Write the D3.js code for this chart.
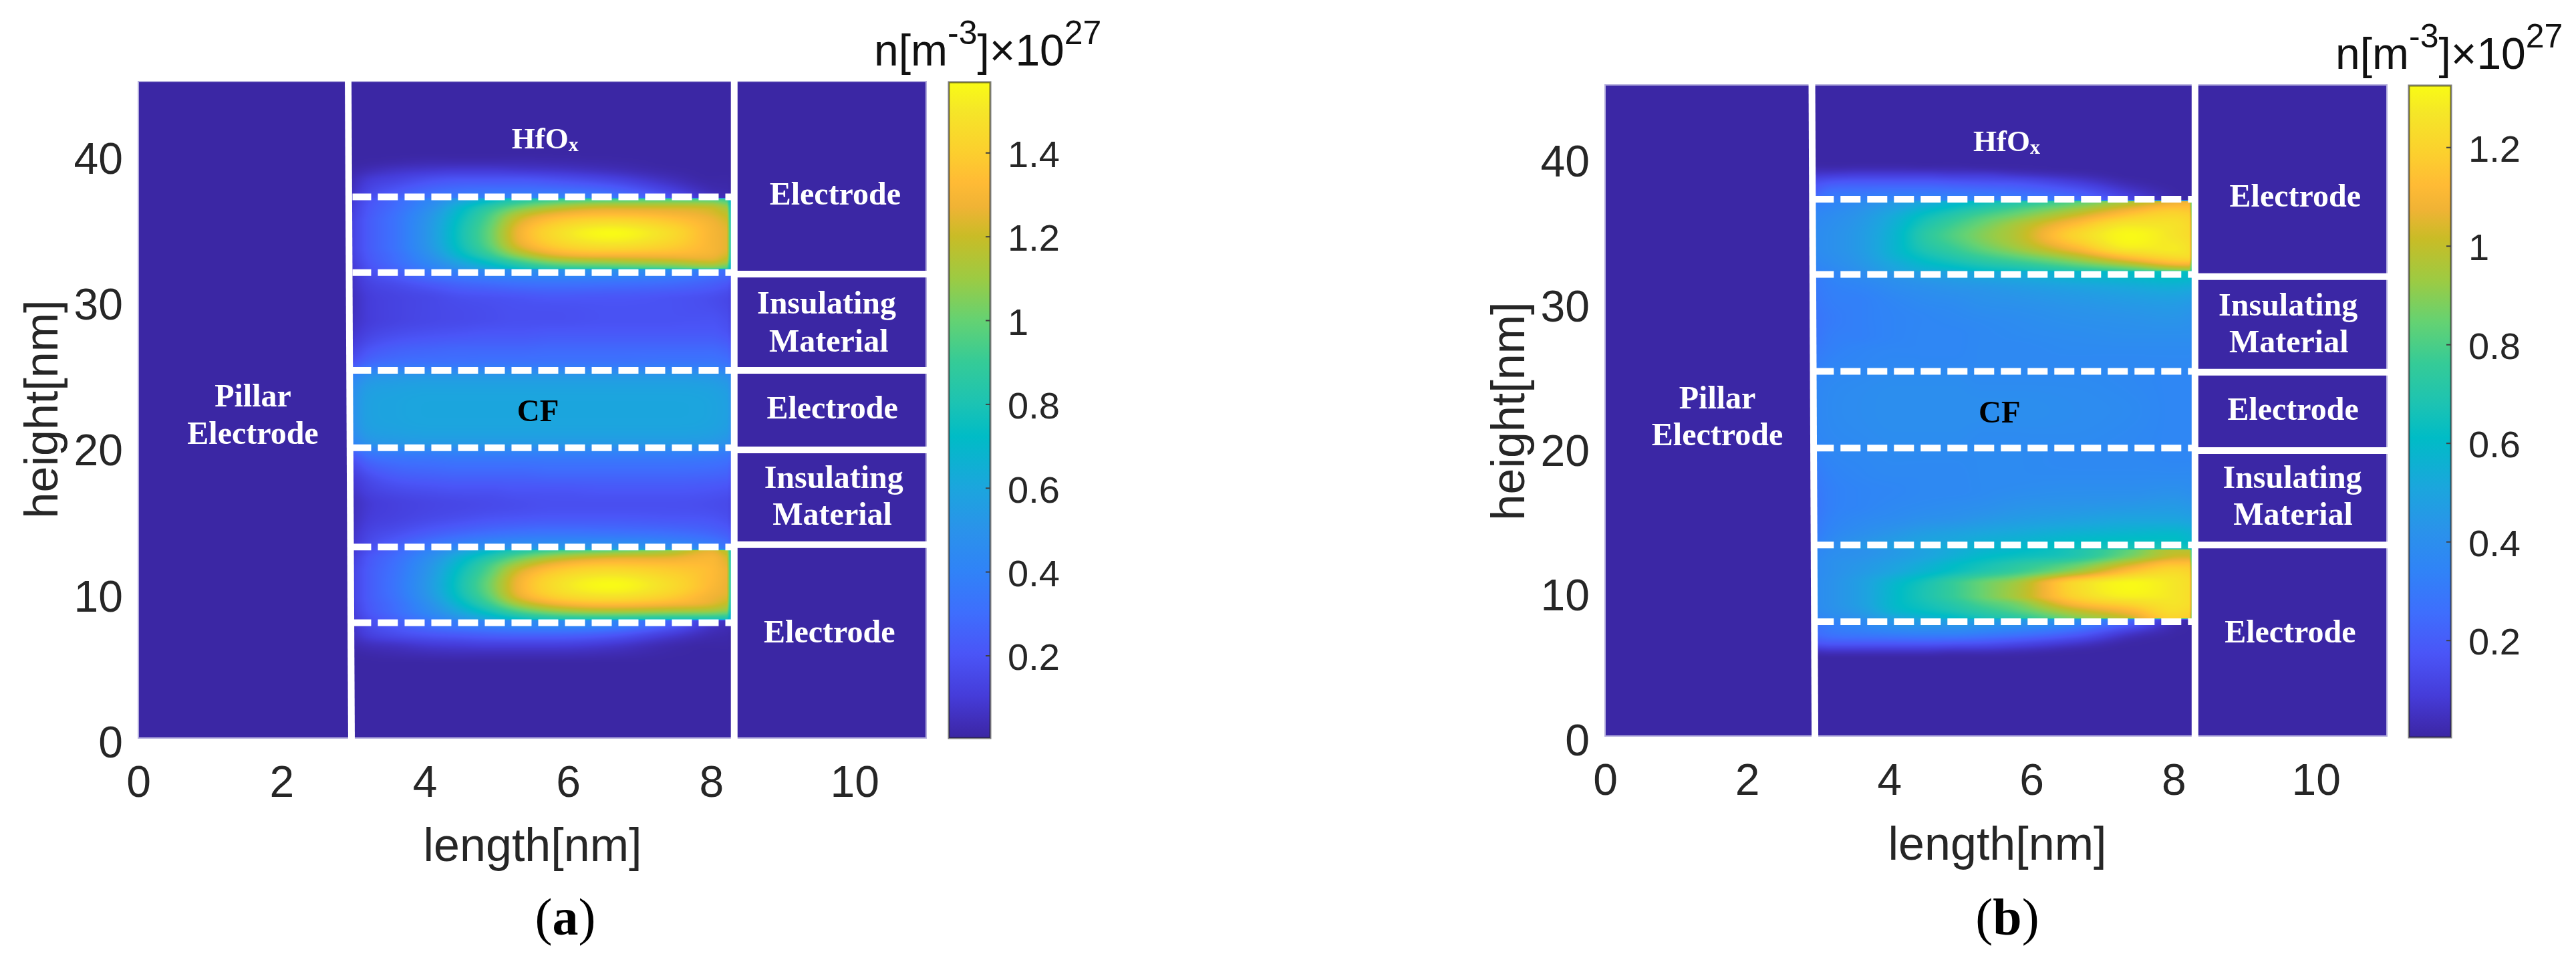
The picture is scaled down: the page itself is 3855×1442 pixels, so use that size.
<!DOCTYPE html>
<html><head><meta charset="utf-8">
<script src="https://cdnjs.cloudflare.com/ajax/libs/d3/7.8.5/d3.min.js"></script>
<style>
html,body{margin:0;padding:0;background:#fff;width:3855px;height:1442px;overflow:hidden}
canvas,svg{position:absolute;left:0;top:0}
</style></head><body>
<script>
const lengthTicks=[0,2,4,6,8,10];
const heightTicks=[0,10,20,30,40];
const colorbarTicksA=[0.2,0.4,0.6,0.8,1,1.2,1.4];
const colorbarTicksB=[0.2,0.4,0.6,0.8,1,1.2];
const rangeA=[0.003,1.568];
const rangeB=[0.003,1.325];
const colorPositions=[0,.02,.064,.128,.191,.255,.319,.383,.46,.51,.574,.638,.70,.765,.81,.848,.893,.957,1];
const colorValues=["#3b27a3","#3f2cb4","#453cd9","#4a55f7","#3e6efd","#3083f7","#2a93ea","#1ba6dd","#00bcc6","#1cc3b3","#35cb97","#65d272","#9ccb43","#c9bc26","#f0b335","#ffbb35","#fccf2e","#f5e628","#f9fb15"];
const lengthNodes=[2.93,3.2,3.6,4.1,4.5,4.9,5.3,5.8,6.6,7.4,8.0,8.22,8.28];
const heightNodesA=[45,40.2,39.5,38.9,38.3,37.6,37.05,36.95,36.4,35.9,35.4,34.6,33.7,33.1,32.7,32.2,32.1,31.5,31,30,28.8,27.7,26.7,25.6,24.7,22.5,20.3,19.5,18,17,16,15,14,13.4,12.95,12.85,12.4,11.9,11.4,10.5,9.7,9.2,8.7,8.15,8.05,7.7,7.05,6.4,5.7,5,0];
const densityA=[
[.005,.005,.005,.005,.005,.005,.005,.005,.005,.005,.005,.005,.005],
[.005,.005,.005,.005,.005,.005,.005,.005,.005,.005,.005,.005,.005],
[.005,.01,.02,.03,.03,.03,.03,.025,.015,.005,.005,.005,.005],
[.01,.04,.07,.09,.1,.1,.09,.08,.05,.015,.005,.005,.005],
[.02,.09,.13,.18,.2,.2,.2,.18,.13,.05,.01,.01,.005],
[.03,.13,.2,.27,.3,.31,.31,.3,.25,.12,.03,.02,.01],
[.04,.16,.25,.34,.38,.4,.42,.42,.36,.2,.06,.04,.03],
[.06,.18,.28,.42,.55,.68,.80,.88,.93,.95,.95,.9,.6],
[.08,.20,.30,.48,.68,.85,1.0,1.12,1.2,1.2,1.18,1.1,.7],
[.09,.21,.32,.52,.73,.93,1.14,1.27,1.33,1.3,1.24,1.18,.72],
[.10,.22,.33,.54,.76,.97,1.22,1.37,1.45,1.38,1.28,1.22,.74],
[.10,.22,.33,.55,.78,1.0,1.27,1.45,1.565,1.46,1.3,1.25,.76],
[.10,.22,.33,.54,.76,.97,1.22,1.38,1.46,1.4,1.3,1.25,.76],
[.09,.21,.31,.50,.70,.88,1.08,1.24,1.3,1.3,1.28,1.22,.74],
[.08,.20,.30,.46,.62,.77,.93,1.08,1.14,1.18,1.22,1.15,.7],
[.06,.18,.27,.40,.52,.63,.75,.85,.9,.95,1.02,.95,.6],
[.05,.17,.25,.36,.42,.46,.48,.5,.5,.46,.36,.3,.25],
[.04,.14,.2,.28,.32,.35,.37,.38,.37,.34,.28,.25,.2],
[.04,.12,.16,.21,.25,.27,.29,.3,.29,.27,.23,.2,.16],
[.03,.1,.13,.15,.17,.18,.19,.2,.2,.19,.17,.15,.12],
[.04,.1,.13,.15,.16,.17,.18,.18,.19,.19,.19,.17,.13],
[.06,.13,.17,.19,.2,.21,.21,.22,.22,.22,.22,.2,.16],
[.1,.19,.24,.26,.27,.27,.27,.28,.28,.28,.28,.26,.22],
[.18,.29,.33,.34,.34,.35,.35,.35,.35,.36,.36,.34,.3],
[.38,.5,.53,.54,.54,.54,.54,.54,.54,.54,.53,.5,.44],
[.45,.57,.59,.6,.6,.6,.6,.6,.6,.6,.59,.57,.5],
[.38,.5,.53,.54,.54,.54,.54,.54,.54,.54,.53,.5,.44],
[.2,.33,.37,.38,.39,.39,.39,.39,.39,.39,.38,.36,.32],
[.08,.17,.23,.25,.26,.26,.26,.27,.27,.27,.26,.25,.2],
[.05,.12,.16,.18,.19,.19,.2,.2,.21,.21,.2,.19,.16],
[.03,.09,.12,.14,.15,.16,.17,.18,.18,.18,.17,.16,.13],
[.03,.1,.13,.16,.18,.2,.21,.22,.22,.21,.2,.18,.14],
[.04,.13,.18,.24,.28,.31,.33,.34,.33,.31,.27,.24,.2],
[.05,.15,.23,.32,.38,.42,.44,.45,.45,.41,.35,.3,.24],
[.06,.17,.27,.38,.46,.5,.53,.55,.55,.5,.42,.36,.3],
[.05,.17,.27,.42,.56,.70,.82,.92,1.0,1.1,1.25,1.15,.7],
[.07,.2,.3,.48,.66,.82,.98,1.12,1.22,1.24,1.3,1.22,.72],
[.09,.21,.32,.52,.72,.92,1.12,1.28,1.36,1.34,1.32,1.25,.74],
[.1,.22,.33,.54,.76,.97,1.22,1.38,1.46,1.4,1.33,1.27,.75],
[.1,.22,.34,.56,.79,1.02,1.28,1.46,1.565,1.46,1.32,1.26,.76],
[.1,.22,.33,.54,.76,.98,1.24,1.4,1.48,1.4,1.28,1.24,.75],
[.09,.21,.31,.5,.7,.9,1.12,1.27,1.34,1.3,1.24,1.18,.72],
[.08,.2,.3,.46,.62,.78,.95,1.08,1.14,1.12,1.1,1.06,.68],
[.06,.17,.26,.38,.5,.62,.72,.8,.82,.8,.8,.78,.55],
[.05,.16,.24,.32,.38,.42,.45,.46,.42,.26,.1,.06,.04],
[.04,.15,.22,.3,.35,.38,.41,.42,.38,.22,.07,.04,.03],
[.03,.11,.16,.2,.22,.24,.25,.25,.21,.1,.03,.02,.01],
[.02,.05,.07,.1,.11,.12,.12,.12,.09,.03,.01,.01,.005],
[.005,.015,.025,.035,.04,.04,.04,.04,.03,.01,.005,.005,.005],
[.005,.005,.005,.005,.005,.005,.005,.005,.005,.005,.005,.005,.005],
[.005,.005,.005,.005,.005,.005,.005,.005,.005,.005,.005,.005,.005]
];
const heightNodesB=[45,39.8,39.3,38.8,38.3,37.6,37.05,36.95,36.4,35.9,35.4,34.6,33.7,33.1,32.7,32.2,32.1,31.5,31,30,28.8,27.7,26.7,25.6,24.7,22.5,20.3,19.5,18,17,16,15,14,13.4,12.95,12.85,12.4,11.9,11.4,10.5,9.7,9.2,8.7,8.15,8.05,7.7,7.05,6.4,5.8,5.3,0];
const densityB=[
[.005,.005,.005,.005,.005,.005,.005,.005,.005,.005,.005,.005,.005],
[.005,.005,.005,.005,.005,.005,.005,.005,.005,.005,.005,.005,.005],
[.02,.02,.025,.025,.02,.02,.015,.01,.005,.005,.005,.005,.005],
[.07,.08,.09,.09,.09,.08,.08,.06,.03,.005,.005,.005,.005],
[.14,.17,.18,.18,.18,.17,.16,.15,.09,.02,.005,.005,.005],
[.2,.27,.28,.29,.29,.28,.27,.25,.19,.07,.01,.005,.005],
[.26,.32,.34,.36,.36,.36,.35,.33,.27,.12,.02,.01,.01],
[.3,.34,.38,.45,.5,.56,.62,.68,.8,.95,1.05,1.08,.6],
[.34,.37,.42,.5,.58,.65,.72,.8,.93,1.08,1.16,1.15,.65],
[.36,.39,.44,.54,.64,.72,.8,.88,1.03,1.18,1.22,1.2,.68],
[.37,.4,.45,.56,.68,.77,.85,.95,1.12,1.26,1.25,1.22,.7],
[.38,.41,.46,.58,.72,.81,.89,.98,1.2,1.32,1.26,1.23,.7],
[.38,.41,.46,.58,.69,.76,.84,.93,1.1,1.28,1.28,1.25,.7],
[.37,.4,.45,.56,.64,.7,.76,.83,.96,1.14,1.22,1.23,.7],
[.36,.39,.44,.53,.6,.65,.7,.75,.86,1.0,1.12,1.13,.66],
[.34,.37,.42,.5,.55,.58,.62,.65,.72,.8,.9,.92,.6],
[.3,.35,.39,.45,.48,.5,.52,.54,.58,.62,.64,.62,.55],
[.3,.34,.37,.41,.44,.46,.48,.5,.54,.57,.59,.58,.52],
[.3,.33,.35,.39,.41,.43,.44,.46,.49,.52,.54,.53,.48],
[.29,.32,.33,.36,.38,.39,.41,.42,.44,.46,.47,.46,.42],
[.28,.31,.33,.35,.36,.37,.38,.39,.41,.42,.43,.42,.38],
[.28,.32,.33,.35,.36,.36,.37,.38,.39,.4,.4,.4,.36],
[.3,.33,.35,.36,.36,.36,.37,.37,.38,.38,.38,.38,.35],
[.32,.35,.36,.37,.37,.37,.37,.37,.37,.37,.37,.37,.34],
[.35,.37,.38,.39,.39,.39,.38,.38,.38,.37,.36,.36,.34],
[.36,.38,.39,.4,.4,.4,.4,.4,.39,.38,.36,.36,.34],
[.35,.37,.38,.39,.39,.39,.38,.38,.38,.37,.36,.36,.34],
[.33,.36,.37,.38,.38,.38,.38,.38,.37,.37,.36,.36,.34],
[.3,.34,.36,.37,.37,.37,.38,.38,.38,.38,.38,.38,.35],
[.29,.33,.35,.36,.37,.37,.38,.39,.4,.4,.41,.4,.37],
[.28,.33,.35,.37,.38,.39,.4,.42,.43,.44,.45,.44,.4],
[.29,.34,.37,.39,.41,.42,.44,.46,.48,.5,.5,.49,.44],
[.3,.36,.4,.44,.47,.49,.51,.53,.56,.58,.59,.57,.5],
[.32,.38,.43,.47,.5,.52,.55,.57,.61,.63,.63,.6,.52],
[.34,.4,.45,.49,.52,.55,.58,.6,.64,.67,.68,.65,.55],
[.35,.39,.41,.45,.49,.53,.57,.6,.68,.84,.98,.98,.6],
[.36,.4,.42,.46,.5,.55,.6,.64,.7,.88,1.02,1.03,.62],
[.37,.41,.44,.49,.54,.6,.65,.71,.82,1.02,1.14,1.14,.66],
[.37,.41,.45,.51,.57,.63,.69,.76,.92,1.14,1.22,1.2,.7],
[.38,.42,.48,.59,.67,.76,.85,.95,1.22,1.32,1.27,1.24,.7],
[.38,.42,.48,.6,.68,.76,.85,.96,1.2,1.3,1.27,1.24,.7],
[.38,.42,.48,.6,.66,.72,.8,.88,1.12,1.22,1.26,1.24,.7],
[.37,.41,.46,.58,.63,.68,.74,.82,1.0,1.12,1.24,1.22,.68],
[.34,.38,.42,.5,.55,.6,.66,.72,.88,1.02,1.2,1.18,.6],
[.28,.34,.38,.46,.49,.5,.5,.48,.42,.25,.06,.02,.02],
[.26,.32,.36,.42,.44,.44,.43,.41,.34,.18,.03,.01,.01],
[.24,.28,.3,.32,.33,.33,.31,.28,.2,.06,.01,.005,.005],
[.16,.18,.18,.18,.18,.17,.16,.13,.07,.01,.005,.005,.005],
[.04,.05,.05,.05,.05,.04,.04,.03,.01,.005,.005,.005,.005],
[.005,.005,.005,.005,.005,.005,.005,.005,.005,.005,.005,.005,.005],
[.005,.005,.005,.005,.005,.005,.005,.005,.005,.005,.005,.005,.005]
];
const dashedHeightsA=[37.1,31.9,25.2,19.9,13.1,7.9];
const dashedHeightsB=[37.1,31.9,25.2,19.9,13.2,7.9];
const dividerHeightsA=[31.8,25.2,19.75,13.25];
const dividerHeightsB=[31.75,25.14,19.73,13.2];
const labelsA=[["Pillar",1.6,22.72],["Electrode",1.6,20.15],["Electrode",9.73,36.56],["Insulating",9.61,29.09],["Material",9.64,26.47],["Electrode",9.69,21.89],["Insulating",9.71,17.13],["Material",9.69,14.61],["Electrode",9.65,6.54]];
const labelsB=[["Pillar",1.58,22.63],["Electrode",1.58,20.09],["Electrode",9.71,36.61],["Insulating",9.61,29.05],["Material",9.62,26.51],["Electrode",9.68,21.84],["Insulating",9.67,17.13],["Material",9.68,14.59],["Electrode",9.64,6.46]];

const panels=[
 {id:"a",box:[207,1386,1104,122],bar:[1420,1482,1104,123],range:rangeA,ticks:colorbarTicksA,nodes:heightNodesA,grid:densityA,dashed:dashedHeightsA,dividers:dividerHeightsA,labels:labelsA,
  hf:[5.68,40.4],cf:[5.58,21.72],slant:[2.93,2.976],dashFrom:2.99,rightLine:8.32,xlab:[797,1288],ylab:[86,612],title:[1308,98],cap:[846,1398]},
 {id:"b",box:[2402,3572,1101,127],bar:[3605,3668,1103,128],range:rangeB,ticks:colorbarTicksB,nodes:heightNodesB,grid:densityB,dashed:dashedHeightsB,dividers:dividerHeightsB,labels:labelsB,
  hf:[5.65,40.41],cf:[5.55,21.65],slant:[2.91,2.953],dashFrom:2.955,rightLine:8.30,xlab:[2989,1286],ylab:[2281,615],title:[3495,102.5],cap:[3004,1398]}
];
const W=3855,H=1442;
const sans="'Liberation Sans',Arial,sans-serif", serif="'Liberation Serif','Times New Roman',serif";
const canvas=d3.select("body").append("canvas").attr("width",W).attr("height",H).node();
const ctx=canvas.getContext("2d");
const svg=d3.select("body").append("svg").attr("width",W).attr("height",H);
const defs=svg.append("defs");
const colorAt=d3.scaleLinear().domain(colorPositions).range(colorValues).interpolate(d3.interpolateRgb).clamp(true);
const lut=d3.range(1024).map(i=>{const c=d3.rgb(colorAt(i/1023));return [c.r,c.g,c.b];});

// shading-interp rendering: piecewise Hermite between read nodes, straight across
// the close node pairs that stand for a discontinuity at a layer boundary.
const JUMP=0.16;
function slopes(xs,ys){
  const n=xs.length,d=[],m=new Array(n).fill(0);
  for(let i=0;i<n-1;i++)d[i]=(ys[i+1]-ys[i])/(xs[i+1]-xs[i]);
  for(let i=0;i<n;i++){
    const L=i>0&&Math.abs(xs[i]-xs[i-1])>JUMP?d[i-1]:null;
    const R=i<n-1&&Math.abs(xs[i+1]-xs[i])>JUMP?d[i]:null;
    if(L==null&&R==null)m[i]=0;
    else if(L==null)m[i]=R; else if(R==null)m[i]=L;
    else if(L*R<=0)m[i]=0;
    else m[i]=Math.sign(L)*Math.min(Math.abs(L+R)/2,3*Math.abs(L),3*Math.abs(R));
  }
  return m;
}
function hermite(xs,ys,ms,i,v){
  const h=xs[i+1]-xs[i],t=(v-xs[i])/h;
  if(Math.abs(h)<=JUMP)return ys[i]+(ys[i+1]-ys[i])*t;
  const t2=t*t,t3=t2*t;
  return (2*t3-3*t2+1)*ys[i]+(t3-2*t2+t)*h*ms[i]+(-2*t3+3*t2)*ys[i+1]+(t3-t2)*h*ms[i+1];
}

panels.forEach(p=>{
  const x=d3.scaleLinear().domain([0,11]).range([p.box[0],p.box[1]]);
  const y=d3.scaleLinear().domain([0,45]).range([p.box[2],p.box[3]]);
  const norm=d3.scaleLinear().domain(p.range).range([0,1]).clamp(true);
  const [x0,x1,y1,y0]=p.box;
  const w=x1-x0,h=y1-y0;
  const img=ctx.createImageData(w,h);
  const dark=lut[Math.round(norm(.005)*1023)];
  const n=lengthNodes.length;
  // resample each row of read values onto the pixel columns
  const cols=d3.range(w).map(i=>x.invert(x0+i+.5));
  const rowSlopes=p.grid.map(row=>slopes(lengthNodes,row));
  const fine=p.grid.map((row,r)=>cols.map(u=>{
    if(u<lengthNodes[0]||u>lengthNodes[n-1])return 0;
    const k=Math.min(d3.bisectRight(lengthNodes,u)-1,n-2);
    return hermite(lengthNodes,row,rowSlopes[r],k,u);
  }));
  const asc=p.nodes.map(v=>-v);
  for(let i=0;i<w;i++){
    const u=cols[i];
    if(u<lengthNodes[0]||u>lengthNodes[n-1]){
      for(let j=0;j<h;j++){const o=(j*w+i)*4;img.data[o]=dark[0];img.data[o+1]=dark[1];img.data[o+2]=dark[2];img.data[o+3]=255;}
      continue;
    }
    const colVals=fine.map(f=>f[i]);
    const ms=slopes(asc,colVals);
    for(let j=0;j<h;j++){
      const v=-y.invert(y0+j+.5);
      const r=Math.max(0,Math.min(d3.bisectRight(asc,v)-1,asc.length-2));
      const c=lut[Math.round(norm(hermite(asc,colVals,ms,r,v))*1023)];
      const o=(j*w+i)*4;
      img.data[o]=c[0];img.data[o+1]=c[1];img.data[o+2]=c[2];img.data[o+3]=255;
    }
  }
  ctx.putImageData(img,x0,y0);

  const g=svg.append("g");
  g.append("rect").attr("x",x0).attr("y",y0).attr("width",w).attr("height",h).attr("fill","none").attr("stroke","#b4aedd").attr("stroke-width",2);

  // overlay lines
  g.selectAll(".dash").data(p.dashed).join("line").attr("x1",x(p.dashFrom)).attr("x2",x(p.rightLine)-3)
    .attr("y1",d=>y(d)).attr("y2",d=>y(d)).attr("stroke","#fff").attr("stroke-width",10).attr("stroke-dasharray","30 10").attr("stroke-dashoffset",2);
  g.append("line").attr("x1",x(p.slant[0])).attr("x2",x(p.slant[1])).attr("y1",y0-3).attr("y2",y1+3).attr("stroke","#fff").attr("stroke-width",10);
  g.append("line").attr("x1",x(p.rightLine)).attr("x2",x(p.rightLine)).attr("y1",y0-3).attr("y2",y1+3).attr("stroke","#fff").attr("stroke-width",10);
  g.selectAll(".div").data(p.dividers).join("line").attr("x1",x(p.rightLine)).attr("x2",x1+3)
    .attr("y1",d=>y(d)).attr("y2",d=>y(d)).attr("stroke","#fff").attr("stroke-width",10);

  // annotations
  g.selectAll(".lab").data(p.labels).join("text").attr("x",d=>x(d[1])).attr("y",d=>y(d[2])).attr("text-anchor","middle")
    .attr("font-family",serif).attr("font-weight","bold").attr("font-size",48).attr("fill","#fff").text(d=>d[0]);
  const hf=g.append("text").attr("x",x(p.hf[0])).attr("y",y(p.hf[1])).attr("text-anchor","middle").attr("font-family",serif).attr("font-weight","bold").attr("font-size",45).attr("fill","#fff");
  hf.append("tspan").text("HfO");
  hf.append("tspan").attr("font-size",30).attr("dy",4).text("x");
  g.append("text").attr("x",x(p.cf[0])).attr("y",y(p.cf[1])).attr("text-anchor","middle").attr("font-family",serif).attr("font-weight","bold").attr("font-size",47).attr("fill","#000").text("CF");

  // axes
  const xa=g.append("g").attr("transform",`translate(0,${y1})`).call(d3.axisBottom(x).tickValues(lengthTicks).tickSize(0).tickPadding(41));
  const ya=g.append("g").attr("transform",`translate(${x0},0)`).call(d3.axisLeft(y).tickValues(heightTicks).tickSize(0).tickPadding(23));
  [xa,ya].forEach(a=>{a.select(".domain").remove();a.selectAll("text").attr("font-family",sans).attr("font-size",66).attr("fill","#262626");});
  ya.selectAll("text").attr("dy",".43em");
  g.append("text").attr("x",p.xlab[0]).attr("y",p.xlab[1]).attr("text-anchor","middle").attr("font-family",sans).attr("font-size",70).attr("fill","#262626").text("length[nm]");
  g.append("text").attr("transform",`translate(${p.ylab[0]},${p.ylab[1]}) rotate(-90)`).attr("text-anchor","middle").attr("font-family",sans).attr("font-size",70).attr("fill","#262626").text("height[nm]");

  // colorbar
  const [bx0,bx1,by1,by0]=p.bar;
  const grad=defs.append("linearGradient").attr("id","cb"+p.id).attr("x1",0).attr("x2",0).attr("y1",1).attr("y2",0);
  grad.selectAll("stop").data(colorPositions).join("stop").attr("offset",d=>d).attr("stop-color",(d,i)=>colorValues[i]);
  g.append("rect").attr("x",bx0).attr("y",by0).attr("width",bx1-bx0).attr("height",by1-by0).attr("fill",`url(#cb${p.id})`);
  g.append("rect").attr("x",bx0).attr("y",by0).attr("width",bx1-bx0).attr("height",by1-by0).attr("fill","none").attr("stroke","#26262699").attr("stroke-width",3);
  const cs=d3.scaleLinear().domain(p.range).range([by1,by0]);
  const ca=g.append("g").attr("transform",`translate(${bx1},0)`).call(d3.axisRight(cs).tickValues(p.ticks).tickFormat(d3.format("~g")).tickSize(-7).tickPadding(26));
  ca.select(".domain").remove();
  ca.selectAll("line").attr("stroke","#404040").attr("stroke-width",2);
  ca.selectAll("text").attr("font-family",sans).attr("font-size",56).attr("fill","#262626").attr("dy",".38em");

  // colorbar title
  const t=g.append("text").attr("x",p.title[0]).attr("y",p.title[1]).attr("font-family",sans).attr("font-size",66).attr("fill","#111");
  t.append("tspan").text("n[m");
  t.append("tspan").attr("font-size",50).attr("dy",-32).text("-3");
  t.append("tspan").attr("dy",32).text("]×10");
  t.append("tspan").attr("font-size",50).attr("dy",-32).text("27");

  // caption
  const cap=g.append("text").attr("x",p.cap[0]).attr("y",p.cap[1]).attr("text-anchor","middle").attr("font-family",serif).attr("font-size",78).attr("fill","#000");
  cap.append("tspan").text("(");
  cap.append("tspan").attr("font-weight","bold").text(p.id);
  cap.append("tspan").text(")");
});
</script>
</body></html>
